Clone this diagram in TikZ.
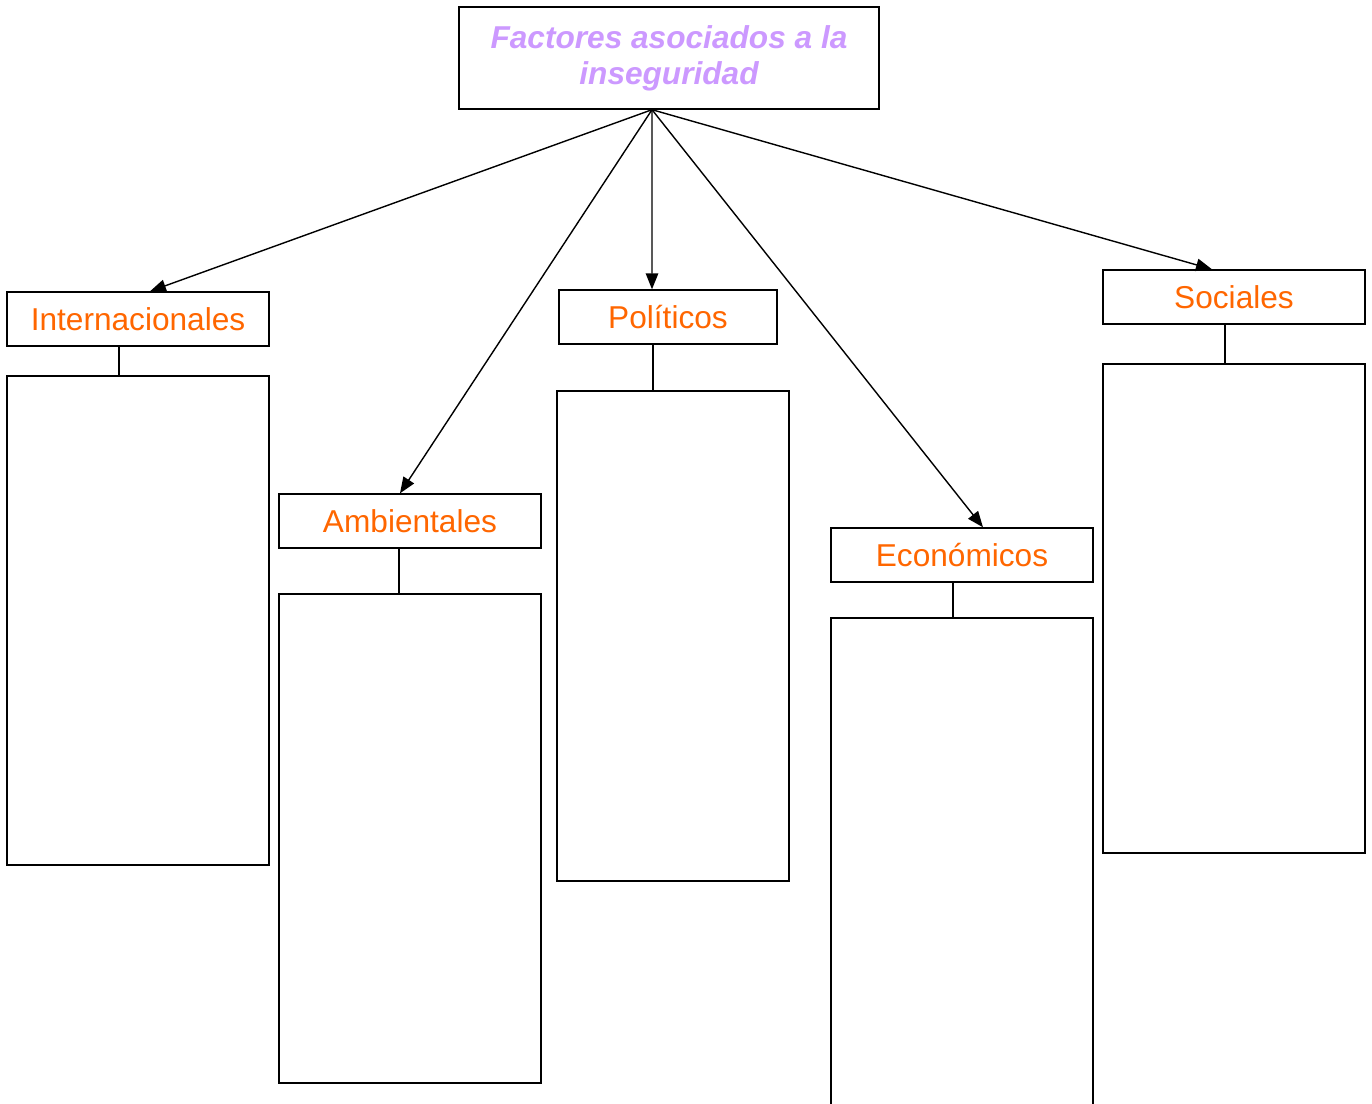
\documentclass[tikz,border=0pt]{standalone}
\usepackage{fontspec}
\setmainfont{Liberation Sans}
\usetikzlibrary{arrows.meta}
\definecolor{lila}{RGB}{204,153,255}
\definecolor{naranja}{RGB}{255,102,0}

\begin{document}
\begin{tikzpicture}[x=0.02cm,y=-0.02cm,line width=0.8pt,
  titulo/.style={draw,minimum width=8.4cm,minimum height=2.04cm,align=center,text=lila,font=\fontsize{18}{20.5}\selectfont\bfseries\itshape},
  factor/.style={draw,minimum width=5.24cm,minimum height=1.08cm,inner sep=0pt,text=naranja,font=\fontsize{18}{20}\selectfont},
  caja/.style={draw,minimum width=5.24cm,minimum height=9.78cm,inner sep=0pt},
  flecha/.style={-{Triangle[length=0.32cm,width=0.25cm]}}]
\useasboundingbox (0,0) rectangle (1372,1103);
\node[titulo] (fac) at (669,58) {Factores asociados a la\\inseguridad};
\coordinate (hub) at ([xshift=-0.34cm]fac.south);

\node[factor] (inter) at (138,319) {\raisebox{-1pt}{Internacionales}};
\node[factor] (amb) at (410,521) {\raisebox{-1pt}{Ambientales}};
\node[factor,minimum width=4.36cm] (pol) at (668,317) {\raisebox{-1pt}{Políticos}};
\node[factor] (eco) at (962,555) {\raisebox{-1pt}{Económicos}};
\node[factor] (soc) at (1234,297) {\raisebox{-1pt}{Sociales}};

\node[caja] (interbox) at (138,620.5) {};
\node[caja] (ambbox) at (410,838.5) {};
\node[caja,minimum width=4.64cm,minimum height=9.8cm] (polbox) at (673,636) {};
\node[caja,minimum height=9.8cm] (ecobox) at (962,863) {};
\node[caja] (socbox) at (1234,608.5) {};

% flechas desde el titulo
\draw[flecha] (hub) -- ([xshift=0.24cm]inter.north);
\draw[flecha] (hub) -- ([xshift=-0.2cm]amb.north);
\draw[flecha] (hub) -- ([xshift=-0.32cm]pol.north);
\draw[flecha] (hub) -- ([xshift=0.42cm]eco.north);
\draw[flecha] (hub) -- ([xshift=-0.44cm]soc.north);

% lineas a las cajas
\draw ([xshift=-0.38cm]inter.south) -- ([xshift=-0.38cm]inter.south |- interbox.north);
\draw ([xshift=-0.22cm]amb.south) -- ([xshift=-0.22cm]amb.south |- ambbox.north);
\draw ([xshift=-0.3cm]pol.south) -- ([xshift=-0.3cm]pol.south |- polbox.north);
\draw ([xshift=-0.18cm]eco.south) -- ([xshift=-0.18cm]eco.south |- ecobox.north);
\draw ([xshift=-0.18cm]soc.south) -- ([xshift=-0.18cm]soc.south |- socbox.north);

\end{tikzpicture}
\end{document}
